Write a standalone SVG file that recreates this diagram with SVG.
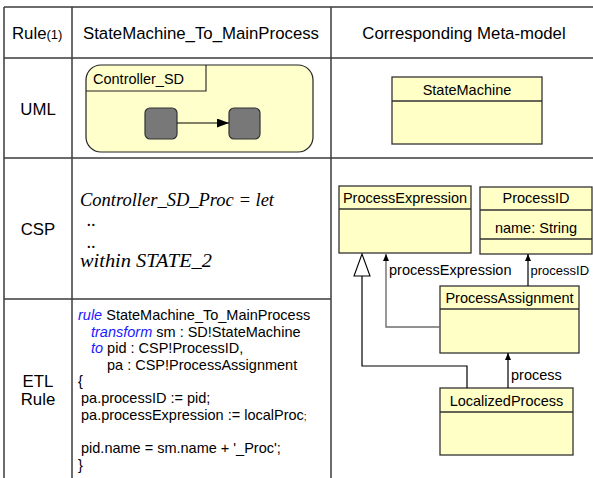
<svg xmlns="http://www.w3.org/2000/svg" width="593" height="478" viewBox="0 0 593 478">
<style>
text{font-family:"Liberation Sans",Arial,sans-serif;fill:#000}
.hd{font-size:16.8px}
.cl{font-size:14.5px}
.code{font-size:14.5px}
.kw{fill:#1a1aff;font-style:italic}
.csp{font-family:"Liberation Serif","DejaVu Serif",serif;font-style:italic;font-size:18px}
.grid{stroke:#3c3c3c;stroke-width:1.5;fill:none}
.box{fill:#ffffc6;stroke:#333;stroke-width:1.3}
.div{stroke:#333;stroke-width:1.3}
.st{fill:#787878;stroke:#333;stroke-width:1.2}
.ln{stroke:#000;stroke-width:1.2;fill:none}
</style>
<defs>
<marker id="ah" markerWidth="8" markerHeight="8" refX="7" refY="3" orient="auto" markerUnits="userSpaceOnUse">
<path d="M0,0 L7,3 L0,6 Z" fill="#000"/>
</marker>
<marker id="ahs" markerWidth="14" markerHeight="10" refX="12" refY="4.5" orient="auto" markerUnits="userSpaceOnUse">
<path d="M0,0 L12,4.5 L0,9 Z" fill="#000"/>
</marker>
</defs>
<rect width="593" height="478" fill="#fff"/>
<g id="table">
<path class="grid" d="M4,7 H593 M4,58 H593 M4,158 H593 M4,299 H331 M4,7 V478 M72,7 V478 M331,7 V478"/>
<text class="hd" x="12" y="39">Rule<tspan font-size="13">(1)</tspan></text>
<text class="hd" x="201" y="39" text-anchor="middle">StateMachine_To_MainProcess</text>
<text class="hd" x="464" y="39" text-anchor="middle">Corresponding Meta-model</text>
<text class="hd" x="38" y="115" text-anchor="middle">UML</text>
<text class="hd" x="38" y="235" text-anchor="middle">CSP</text>
<text class="hd" x="38" y="387" text-anchor="middle">ETL</text>
<text class="hd" x="38" y="405" text-anchor="middle">Rule</text>
</g>
<g id="uml-state-machine">
<rect x="86" y="65" width="227" height="87" rx="15" ry="15" fill="#ffffcc" stroke="#222" stroke-width="1.2"/>
<path d="M86,91 H206 V65" fill="none" stroke="#222" stroke-width="1.1"/>
<text class="cl" x="93" y="84">Controller_SD</text>
<rect class="st" x="145" y="108" width="32" height="31" rx="5"/>
<rect class="st" x="229" y="108" width="31" height="31" rx="5"/>
<line x1="177" y1="123" x2="229" y2="123" stroke="#000" stroke-width="1.2" marker-end="url(#ahs)"/>
</g>
<g id="csp-text">
<text class="csp" x="80" y="206" textLength="194" lengthAdjust="spacingAndGlyphs">Controller_SD_Proc = let</text>
<text class="csp" x="87" y="226">..</text>
<text class="csp" x="87" y="248">..</text>
<text class="csp" x="80" y="267" textLength="132" lengthAdjust="spacingAndGlyphs">within STATE_2</text>
</g>
<g id="etl-code">
<text class="code" x="78" y="320"><tspan class="kw">rule</tspan> StateMachine_To_MainProcess</text>
<text class="code" x="91" y="337"><tspan class="kw">transform</tspan> sm : SD!StateMachine</text>
<text class="code" x="91" y="353"><tspan class="kw">to</tspan> pid : CSP!ProcessID,</text>
<text class="code" x="107" y="370">pa : CSP!ProcessAssignment</text>
<text class="code" x="78" y="386">{</text>
<text class="code" x="81" y="403">pa.processID := pid;</text>
<text class="code" x="81" y="420">pa.processExpression := localProc<tspan font-size="10">;</tspan></text>
<text class="code" x="81" y="453">pid.name = sm.name + '_Proc';</text>
<text class="code" x="78" y="470">}</text>
</g>
<g id="StateMachine">
<rect class="box" x="392" y="77" width="150" height="67"/>
<line class="div" x1="392" y1="101" x2="542" y2="101"/>
<text class="cl" x="467" y="95" text-anchor="middle">StateMachine</text>
</g>
<g id="ProcessExpression">
<rect class="box" x="339" y="186" width="132" height="67"/>
<line class="div" x1="339" y1="209" x2="471" y2="209"/>
<text class="cl" x="405" y="203" text-anchor="middle">ProcessExpression</text>
</g>
<g id="ProcessID">
<rect class="box" x="480" y="187" width="112" height="67"/>
<line class="div" x1="480" y1="210" x2="592" y2="210"/>
<line class="div" x1="480" y1="239" x2="592" y2="239"/>
<text class="cl" x="536" y="203" text-anchor="middle">ProcessID</text>
<text class="cl" x="536" y="233" text-anchor="middle">name: String</text>
</g>
<g id="ProcessAssignment">
<rect class="box" x="440" y="286" width="139" height="67"/>
<line class="div" x1="440" y1="309" x2="579" y2="309"/>
<text class="cl" x="509.5" y="303" text-anchor="middle">ProcessAssignment</text>
</g>
<g id="LocalizedProcess">
<rect class="box" x="440" y="388" width="133" height="67"/>
<line class="div" x1="440" y1="412" x2="573" y2="412"/>
<text class="cl" x="506.5" y="406" text-anchor="middle">LocalizedProcess</text>
</g>
<g id="connectors">
<path class="ln" d="M467,388 V366 H362 V276"/>
<path d="M362,254 L354,276 H370 Z" fill="#fff" stroke="#000" stroke-width="1.1"/>
<path d="M440,327 H386 V254" fill="none" stroke="#6e6e6e" stroke-width="1.4" marker-end="url(#ah)"/>
<path class="ln" d="M528,286 V254" marker-end="url(#ah)"/>
<path class="ln" d="M508,388 V353" marker-end="url(#ah)"/>
<text class="cl" x="389" y="275">processExpression</text>
<text x="530.5" y="275" font-size="13">processID</text>
<text class="cl" x="511" y="380">process</text>
</g>
</svg>
